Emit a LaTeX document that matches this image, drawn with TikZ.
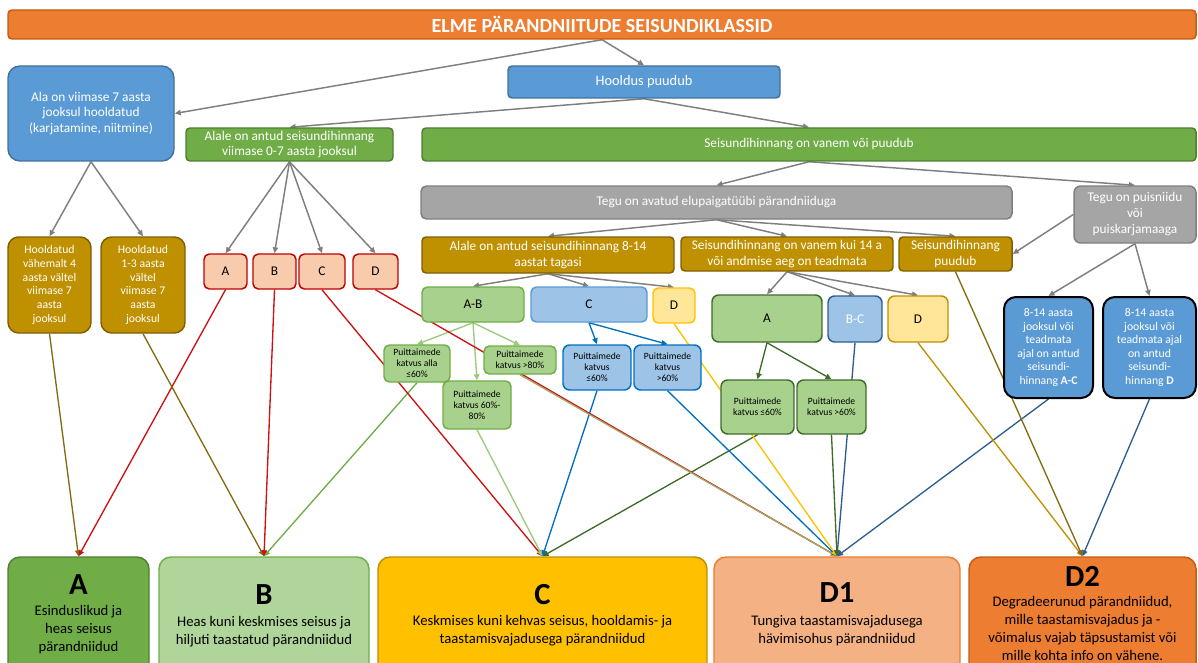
\documentclass[tikz,border=0pt]{standalone}
\usepackage{fontspec}
\setmainfont{Carlito}
\usetikzlibrary{arrows.meta}
\pgfdeclarelayer{bg}
\pgfsetlayers{bg,main}
\newcommand{\fsz}[2]{\fontsize{#1}{#2}\selectfont}
% fills and borders
\definecolor{orgF}{HTML}{ED7D31}\definecolor{orgD}{HTML}{C55A11}
\definecolor{bluF}{HTML}{5B9BD5}\definecolor{bluD}{HTML}{41719C}
\definecolor{grnF}{HTML}{70AD47}\definecolor{grnD}{HTML}{507E32}
\definecolor{gryF}{HTML}{A5A5A5}\definecolor{gryD}{HTML}{7F7F7F}
\definecolor{gldF}{HTML}{BF9000}\definecolor{gldD}{HTML}{7F6000}
\definecolor{redF}{HTML}{F8CBAD}\definecolor{redD}{HTML}{C00000}
\definecolor{lgrF}{HTML}{A9D18E}\definecolor{lgrD}{HTML}{70AD47}
\definecolor{lblF}{HTML}{9DC3E6}\definecolor{lblD}{HTML}{0070C0}
\definecolor{yelF}{HTML}{FFE699}\definecolor{yelD}{HTML}{FFC000}
\definecolor{dgrD}{HTML}{3F6B2A}\definecolor{nvyD}{HTML}{2E5E8E}
\definecolor{bbF}{HTML}{B0D59A}\definecolor{ccF}{HTML}{FFC000}
\definecolor{d1F}{HTML}{F4B183}\definecolor{brwL}{HTML}{866A12}
\definecolor{redL}{HTML}{D01010}\definecolor{oliL}{HTML}{A4A866}
\definecolor{lgrL}{HTML}{9ACB7A}\definecolor{arrG}{HTML}{7F7F7F}
\begin{document}
\begin{tikzpicture}[x=0.75pt,y=-0.75pt,
  bx/.style 2 args={minimum width=#1*0.75pt, minimum height=#2*0.75pt,
    inner sep=0pt, align=center, line width=1.1pt},
  ln/.style={line width=1pt, -{Triangle[length=4.5pt,width=4pt]}},
  gar/.style={ln, draw=arrG, fill=arrG, line width=1.1pt},
  wtx/.style={text=white},
  fn/.style={font=\fsz{10}{11.5}},
  fh/.style={font=\fsz{8.8}{10.3}},
  fp/.style={font=\fsz{7.2}{8.4}},
  fl/.style={font=\fsz{10}{12}},
  big/.style={font=\bfseries\fsz{23}{26}},
  desc/.style={font=\fsz{11}{13.5}, align=center}
]
\useasboundingbox (0,0) rectangle (1198,663);
\clip (0,0) rectangle (1198,663);

% title bar
\node[bx={1188}{29}, fill=orgF, draw=orgD, rounded corners=3pt, text=white,
  font=\bfseries\fsz{15}{16}] (title) at (602,24.5) {ELME PÄRANDNIITUDE SEISUNDIKLASSID};

% upper level
\node[bx={166}{95}, fill=bluF, draw=bluD, rounded corners=9pt, wtx, fn] (alaon) at (91,113.5)
  {Ala on viimase 7 aasta\\jooksul hooldatud\\(karjatamine, niitmine)};
\node[bx={272}{32}, fill=bluF, draw=bluD, rounded corners=3pt, wtx, font=\fsz{10.8}{12}] (hooldus) at (644,82) {Hooldus puudub};
\node[bx={207}{33}, fill=grnF, draw=grnD, rounded corners=3pt, wtx, fn] (alale07) at (289.5,144.5)
  {Alale on antud seisundihinnang\\viimase 0-7 aasta jooksul};
\node[bx={774}{33}, fill=grnF, draw=grnD, rounded corners=3pt, wtx, fn] (seis) at (809,144.5)
  {Seisundihinnang on vanem või puudub};
\node[bx={591}{33}, fill=gryF, draw=gryD, rounded corners=4pt, wtx, fn] (tegu) at (716.5,202.5)
  {Tegu on avatud elupaigatüübi pärandniiduga};
\node[bx={122}{57}, fill=gryF, draw=gryD, rounded corners=5pt, wtx, fl] (puis) at (1135,214.5)
  {Tegu on puisniidu\\või\\puiskarjamaaga};

% hooldatud
\node[bx={83}{96}, fill=gldF, draw=gldD, rounded corners=8pt, wtx, fh] (hool4) at (49.5,285)
  {Hooldatud\\vähemalt 4\\aasta vältel\\viimase 7\\aasta\\jooksul};
\node[bx={84}{96}, fill=gldF, draw=gldD, rounded corners=8pt, wtx, fh] (hool13) at (143,285)
  {Hooldatud\\1-3 aasta\\vältel\\viimase 7\\aasta\\jooksul};

% classes from recent assessment
\node[bx={43}{35}, fill=redF, draw=redD, rounded corners=4pt, fl] (rA) at (225.5,271.5) {A};
\node[bx={43}{35}, fill=redF, draw=redD, rounded corners=4pt, fl] (rB) at (274.5,271.5) {B};
\node[bx={46}{35}, fill=redF, draw=redD, rounded corners=4pt, fl] (rC) at (322,271.5) {C};
\node[bx={45}{35}, fill=redF, draw=redD, rounded corners=4pt, fl] (rD) at (375.5,271.5) {D};

% older or missing assessment
\node[bx={252}{36}, fill=gldF, draw=gldD, rounded corners=3pt, wtx, fl] (a814) at (548,255)
  {Alale on antud seisundihinnang 8-14\\aastat tagasi};
\node[bx={212}{34}, fill=gldF, draw=gldD, rounded corners=3pt, wtx, fl] (vanem) at (787,254)
  {Seisundihinnang on vanem kui 14 a\\või andmise aeg on teadmata};
\node[bx={113}{34}, fill=gldF, draw=gldD, rounded corners=3pt, wtx, fl] (puudub) at (955.5,254)
  {Seisundihinnang\\puudub};

\node[bx={102}{35}, fill=lgrF, draw=lgrD, rounded corners=4pt, fl] (ab) at (473,304.5) {A-B};
\node[bx={116}{35}, fill=lblF, draw=bluF, rounded corners=4pt, fl] (cc) at (589,304.5) {C};
\node[bx={42}{35}, fill=yelF, draw=yelD, rounded corners=4pt, fl] (dd) at (674,305.5) {D};

\node[bx={66}{37}, fill=lgrF, draw=lgrD, rounded corners=4pt, fp] (pAlla) at (417,363.5)
  {Puittaimede\\katvus alla\\≤60\%};
\node[bx={68}{48}, fill=lgrF, draw=lgrD, rounded corners=4pt, fp] (p6080) at (477,405)
  {Puittaimede\\katvus 60\%-\\80\%};
\node[bx={72}{28}, fill=lgrF, draw=lgrD, rounded corners=4pt, fp] (p80) at (520,360)
  {Puittaimede\\katvus >80\%};
\node[bx={68}{45}, fill=lblF, draw=lblD, rounded corners=5pt, fp] (pCa) at (597,367.5)
  {Puittaimede\\katvus\\≤60\%};
\node[bx={67}{45}, fill=lblF, draw=lblD, rounded corners=5pt, fp] (pCb) at (667.5,367.5)
  {Puittaimede\\katvus\\>60\%};

\node[bx={110}{47}, fill=lgrF, draw=dgrD, rounded corners=5pt, fl] (vA) at (767,318.5) {A};
\node[bx={54}{46}, fill=lblF, draw=nvyD, rounded corners=5pt, wtx, fl] (vBC) at (855,319) {B-C};
\node[bx={60}{46}, fill=yelF, draw=gldF, rounded corners=5pt, fl] (vD) at (918,319) {D};
\node[bx={73}{54}, fill=lgrF, draw=dgrD, rounded corners=5pt, fp] (vAa) at (757.5,407)
  {Puittaimede\\katvus ≤60\%};
\node[bx={69}{54}, fill=lgrF, draw=dgrD, rounded corners=5pt, fp] (vAb) at (831.5,407)
  {Puittaimede\\katvus >60\%};

% wooded meadows
\node[bx={89}{101}, fill=bluF, draw=black, line width=1.5pt, rounded corners=9pt, wtx,
  font=\fsz{8.8}{10.1}] (bAC) at (1048.5,347.5)
  {8-14 aasta\\jooksul või\\teadmata\\ajal on antud\\seisundi-\\hinnang \textbf{A-C}};
\node[bx={93}{101}, fill=bluF, draw=black, line width=1.5pt, rounded corners=9pt, wtx,
  font=\fsz{8.8}{10.1}] (bD) at (1149.5,347.5)
  {8-14 aasta\\jooksul või\\teadmata ajal\\on antud\\seisundi-\\hinnang \textbf{D}};

% condition classes
\node[bx={141}{140}, fill=grnF, draw=grnD, rounded corners=9pt] (fA) at (78.5,627) {};
\node[big] (lA) at (78.5,585) {A};
\node[desc] (dA) at (78.5,630) {Esinduslikud ja\\heas seisus\\pärandniidud};
\node[bx={210}{140}, fill=bbF, draw=lgrD, rounded corners=9pt] (fB) at (264,627) {};
\node[big] (lB) at (264,595) {B};
\node[desc] (dB) at (264,631.5) {Heas kuni keskmises seisus ja\\hiljuti taastatud pärandniidud};
\node[bx={329}{140}, fill=ccF, draw=gldF, rounded corners=9pt] (fC) at (542.5,627) {};
\node[big] (lC) at (542.5,595) {C};
\node[desc] (dC) at (542.5,631) {Keskmises kuni kehvas seisus, hooldamis- ja\\taastamisvajadusega pärandniidud};
\node[bx={246}{140}, fill=d1F, draw=orgF, rounded corners=9pt] (fD1) at (837,627) {};
\node[big] (lD1) at (837,593) {D1};
\node[desc] (dD1) at (837,630.5) {Tungiva taastamisvajadusega\\hävimisohus pärandniidud};
\node[bx={227}{140}, fill=orgF, draw=orgD, rounded corners=9pt] (fD2) at (1082.5,627) {};
\node[big] (lD2) at (1082.5,576) {D2};
\node[desc] (dD2) at (1082.5,628) {Degradeerunud pärandniidud,\\mille taastamisvajadus ja -\\võimalus vajab täpsustamist või\\mille kohta info on vähene.};

\begin{pgfonlayer}{bg}
% decision arrows
\draw[gar] (title.south) -- (alaon.east);
\draw[gar] (title.south) -- (hooldus.north);
\draw[gar] (hooldus.south) -- (alale07.north);
\draw[gar] (hooldus.south) -- (seis.north);
\draw[gar] (seis.south) -- (tegu.north);
\draw[gar] (seis.south) -- (puis.north);
\draw[gar] (tegu.south) -- (a814.north);
\draw[gar] (tegu.south) -- (vanem.north);
\draw[gar] (tegu.south) -- (puudub.north);
\draw[gar] (puis.west) -- (puudub.east);
\draw[gar] (puis.south) -- (bAC.north);
\draw[gar] (puis.south) -- (bD.north);
\draw[gar] (alaon.south) -- (hool4.north);
\draw[gar] (alaon.south) -- (hool13.north);
\draw[gar] (alale07.south) -- (rA.north);
\draw[gar] (alale07.south) -- (rB.north);
\draw[gar] (alale07.south) -- (rC.north);
\draw[gar] (alale07.south) -- (rD.north);
\draw[gar] (a814.south) -- (ab.north);
\draw[gar] (a814.south) -- (cc.north);
\draw[gar] (a814.south) -- (dd.north);
\draw[gar] (vanem.south) -- (vA.north);
\draw[gar] (vanem.south) -- (vBC.north);
\draw[gar] (vanem.south) -- (vD.north);
\draw[ln, draw=lgrL, fill=lgrL] (ab.south) -- (pAlla.north);
\draw[ln, draw=lgrL, fill=lgrL] (ab.south) -- (p6080.north);
\draw[ln, draw=lgrL, fill=lgrL] (ab.south) -- (p80.north);
\draw[ln, draw=lblD, fill=lblD] (cc.south) -- (pCa.north);
\draw[ln, draw=lblD, fill=lblD] (cc.south) -- (pCb.north);
\draw[ln, draw=dgrD, fill=dgrD] (vA.south) -- (vAa.north);
\draw[ln, draw=dgrD, fill=dgrD] (vA.south) -- (vAb.north);
% links to the condition classes
\draw[ln, draw=brwL, fill=brwL] (hool4.south) -- (fA.north);
\draw[ln, draw=redL, fill=redL] (rA.south) -- (fA.north);
\draw[ln, draw=brwL, fill=brwL] (hool13.south) -- (fB.north);
\draw[ln, draw=grnF, fill=grnF] (pAlla.south) -- (fB.north);
\draw[ln, draw=redL, fill=redL] (rB.south) -- (fB.north);
\draw[ln, draw=redL, fill=redL] (rC.south) -- (fC.north);
\draw[ln, draw=lgrL, fill=lgrL] (p6080.south) -- (fC.north);
\draw[ln, draw=lblD, fill=lblD] (pCa.south) -- (fC.north);
\draw[ln, draw=dgrD, fill=dgrD] (vAa.south) -- (fC.north);
\draw[ln, draw=redL, fill=redL] (rD.south) -- (fD1.north);
\draw[ln, draw=oliL, fill=oliL] (p80.south) -- (fD1.north);
\draw[ln, draw=lblD, fill=lblD] (pCb.south) -- (fD1.north);
\draw[ln, draw=yelD, fill=yelD] (dd.south) -- (fD1.north);
\draw[ln, draw=nvyD, fill=nvyD] (bAC.south) -- (fD1.north);
\draw[ln, draw=nvyD, fill=nvyD] (vBC.south) -- (fD1.north);
\draw[ln, draw=dgrD, fill=dgrD] (vAb.south) -- (fD1.north);
\draw[ln, draw=gldF, fill=gldF] (vD.south) -- (fD2.north);
\draw[ln, draw=brwL, fill=brwL] (puudub.south) -- (fD2.north);
\draw[ln, draw=nvyD, fill=nvyD] (bD.south) -- (fD2.north);
\end{pgfonlayer}
\end{tikzpicture}
\end{document}
